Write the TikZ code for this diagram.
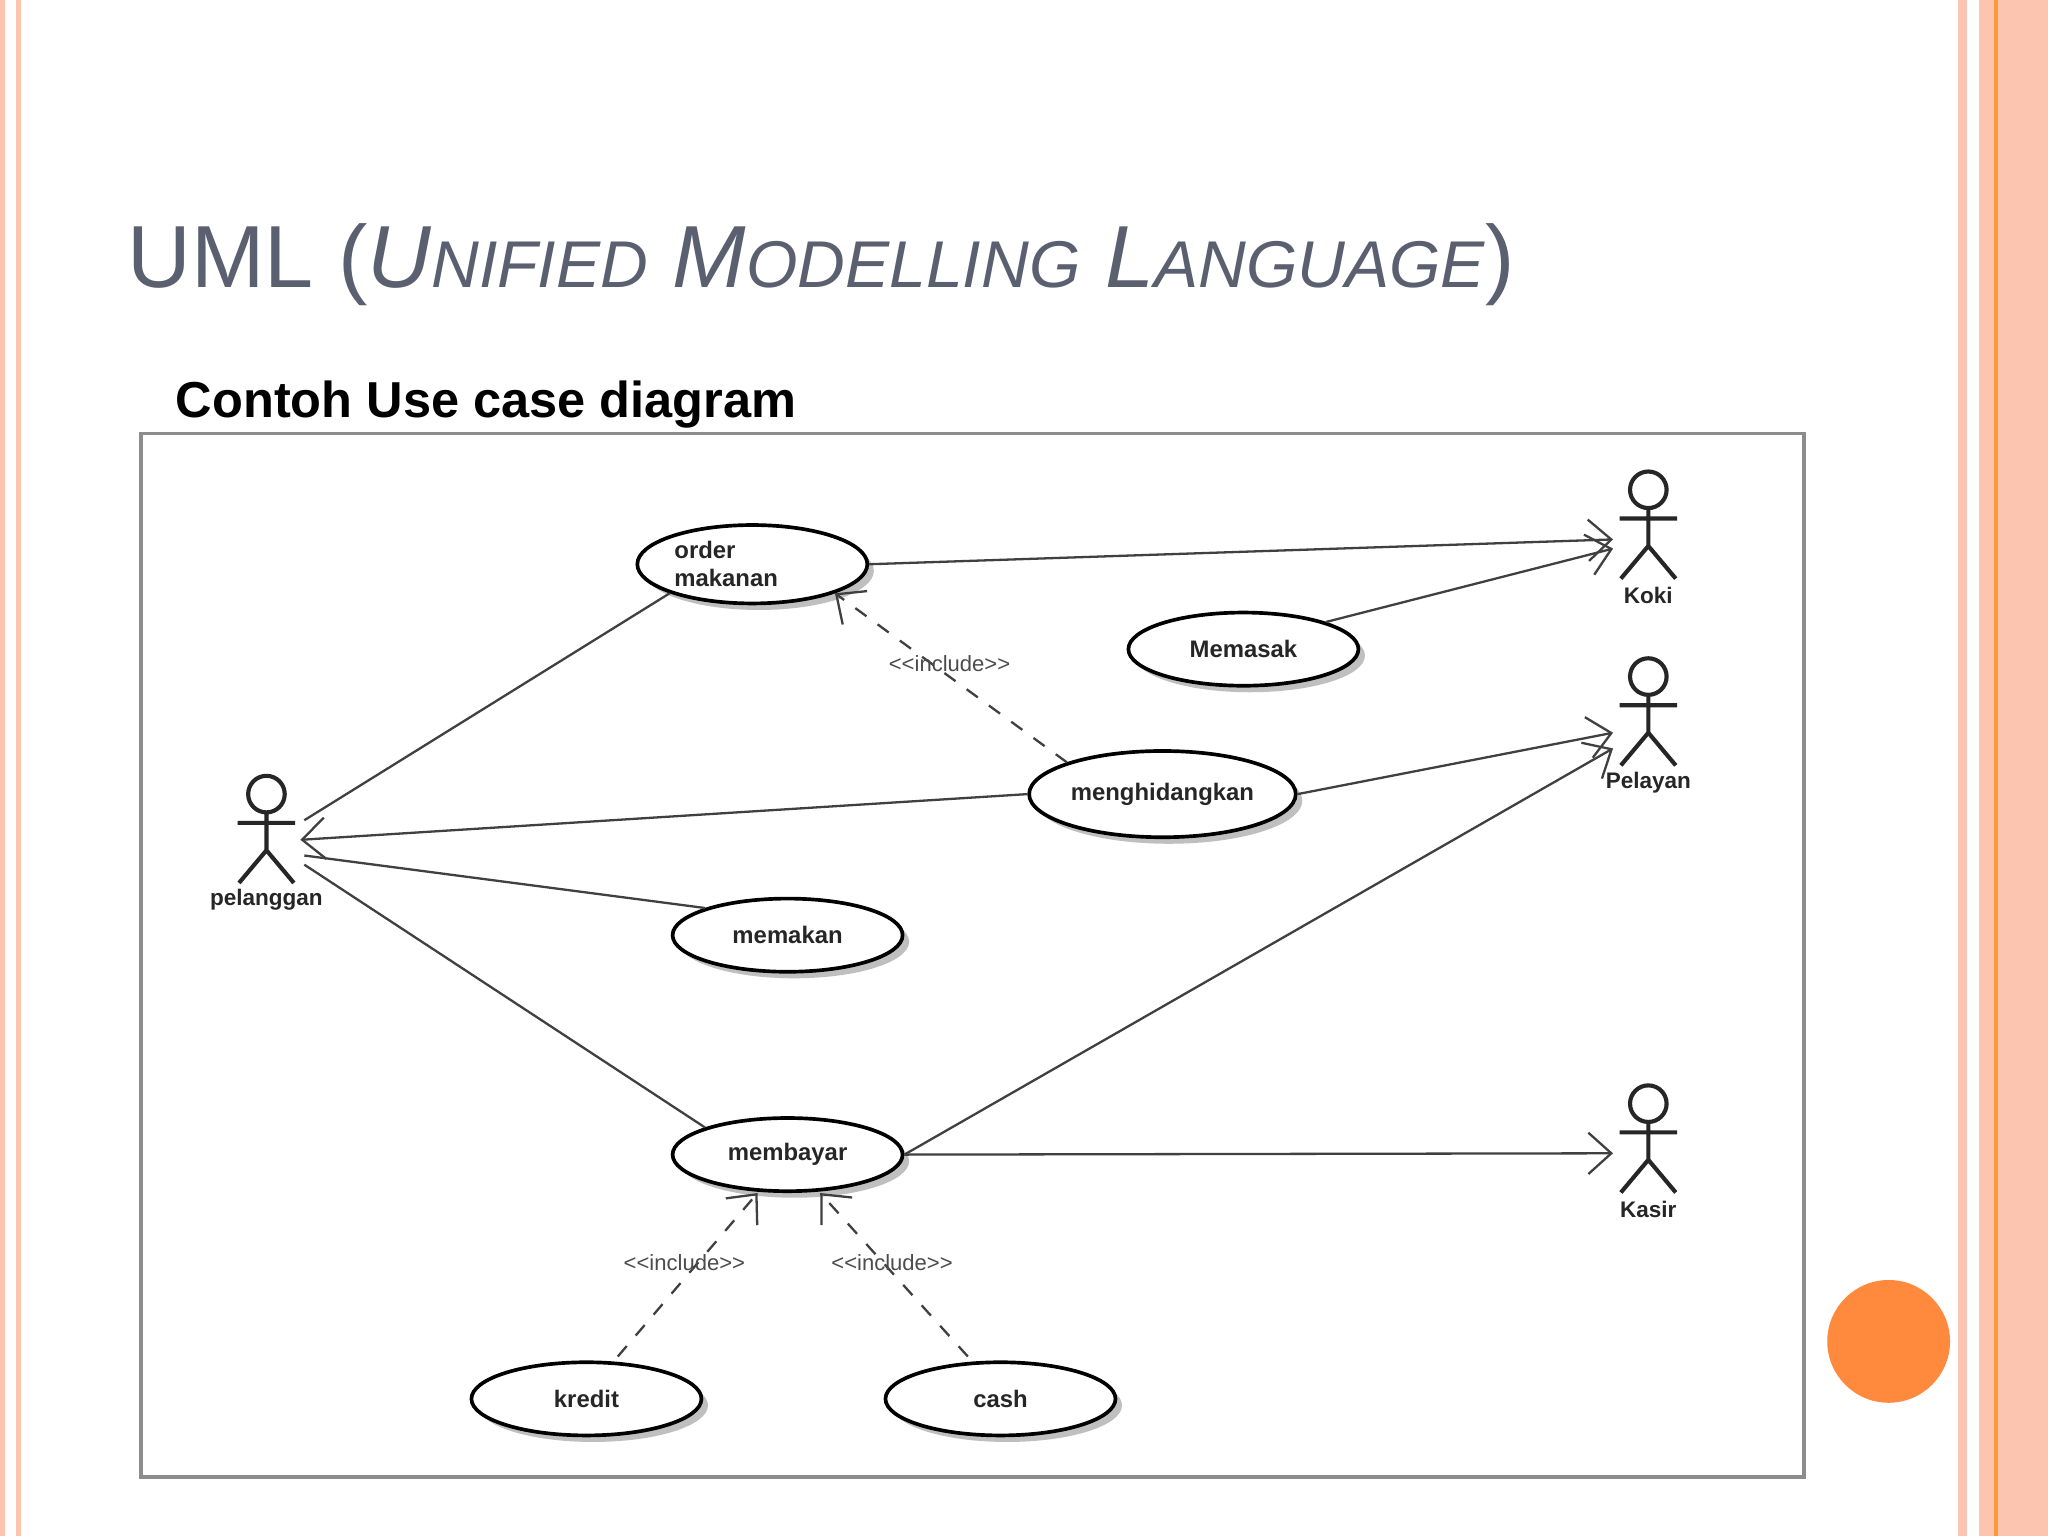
\documentclass[tikz,border=0pt]{standalone}
\usepackage{fontspec}
\setmainfont{Liberation Sans}
\usetikzlibrary{shapes.geometric,arrows.meta,calc}
\definecolor{salmon}{HTML}{FBC5B0}
\definecolor{titlec}{HTML}{5A6070}
\definecolor{orb}{HTML}{FF8A3D}
\newcommand{\inclab}{<\kern0pt<include>\kern0pt>}
\begin{document}
\begin{tikzpicture}[x=0.01cm,y=-0.01cm,
 uc/.style={ellipse,draw,thick,fill=white,inner sep=0pt,minimum width=1.76cm,minimum height=0.58cm,font=\fontsize{5.2}{6}\selectfont\bfseries,text=black!85,align=left},
 sh/.style={ellipse,fill=black!25,inner sep=0pt,minimum width=1.76cm,minimum height=0.58cm},
 conn/.style={draw=black!75,line width=0.5pt},
 arr/.style={conn,-{Straight Barb[length=5pt,width=9pt]}},
 inc/.style={arr,dashed},
 lab/.style={font=\fontsize{4.8}{6}\selectfont,text=black!70},
 act/.style={font=\fontsize{4.9}{6}\selectfont\bfseries,text=black!85}]
\useasboundingbox (0,0) rectangle (1568,1176);
\fill[white] (0,0) rectangle (1568,1176);
% borders
\fill[salmon] (0,0) rectangle (4,1176);
\draw[salmon,line width=1pt] (14,0) -- (14,1176);
\fill[salmon!80!pink] (1499,0) rectangle (1506,1176);
\fill[salmon] (1515,0) rectangle (1568,1176);
\draw[orange!80,line width=0.8pt] (1528,0) -- (1528,1176);
% titles
\node[anchor=base west,text=titlec,inner sep=0] (title) at (97,220)
 {\fontsize{19.2}{24}\selectfont UML (\textit{U{\fontsize{14.4}{18}\selectfont NIFIED} M{\fontsize{14.4}{18}\selectfont ODELLING} L{\fontsize{14.4}{18}\selectfont ANGUAGE}})};
\node[anchor=base west,inner sep=0,font=\fontsize{11}{13}\selectfont\bfseries] (sub) at (134,320) {Contoh Use case diagram};
\draw[black!45,line width=0.8pt] (108,332) rectangle (1381,1131);
\fill[orb] (1446,1027) circle (47);
% use cases
\foreach \n/\x/\y/\w/\h in {order/576/432/1.76/0.6, mem/952/497/1.76/0.56, meng/890/608/2.04/0.66, mkn/603/716/1.76/0.56, bay/603/884/1.76/0.56, kre/449/1071/1.76/0.56, cash/766/1071/1.76/0.56}
 \node[sh,minimum width=\w cm,minimum height=\h cm] at (\x+5,\y+5) {};
\node[uc,minimum height=0.6cm] (order) at (576,432) {order\\makanan\hspace*{0.4cm}};
\node[uc,minimum height=0.56cm] (mem) at (952,497) {Memasak};
\node[uc,minimum width=2.04cm,minimum height=0.66cm] (meng) at (890,608) {menghidangkan};
\node[uc,minimum height=0.56cm] (mkn) at (603,716) {memakan};
\node[uc,minimum height=0.56cm] (bay) at (603,884) {membayar};
\node[uc,minimum height=0.56cm] (kre) at (449,1071) {kredit};
\node[uc,minimum height=0.56cm] (cash) at (766,1071) {cash};
% actors
\foreach \n/\x/\y/\t in {pel/204/608/pelanggan, koki/1262/375/Koki, pely/1262/518/Pelayan, kasir/1262/845/Kasir}{
 \draw[black!85,line width=0.9pt] (\x,\y) circle (14) (\x,\y+14) -- (\x,\y+43) (\x-22,\y+22) -- (\x+22,\y+22)
   (\x-21,\y+68) -- (\x,\y+43) -- (\x+21,\y+68);
 \node[act] (\n) at (\x,\y+81) {\t};
}
\coordinate (pelA) at (233,628); \coordinate (pelB) at (230,643);
\coordinate (pelC) at (233,655); \coordinate (pelD) at (233,662);
\coordinate (kokiA) at (1235,413); \coordinate (kokiB) at (1235,420);
\coordinate (pelyA) at (1235,561); \coordinate (pelyB) at (1235,573);
\coordinate (kasirA) at (1235,883);
% connectors
\draw[arr] (order.east) -- (kokiA);
\draw[arr] (mem.north east) -- (kokiB);
\draw[arr] (meng.east) -- (pelyA);
\draw[arr] (bay.east) -- (pelyB);
\draw[arr] (bay.east) -- (kasirA);
\draw[conn] (pelA) -- (order.south west);
\draw[arr] (meng.west) -- (pelB);
\draw[conn] (pelC) -- (mkn.north west);
\draw[conn] (pelD) -- (bay.north west);
\draw[inc] (meng.north west) -- (order.south east);
\node[lab] (l1) at (727,508) {\inclab};
\draw[inc] ($(kre.north)+(24,-3)$) -- ($(bay.south)+(-23,0)$);
\node[lab] (l2) at (524,967) {\inclab};
\draw[inc] ($(cash.north)+(-25,-3)$) -- ($(bay.south)+(25,0)$);
\node[lab] (l3) at (683,967) {\inclab};
\end{tikzpicture}
\end{document}
